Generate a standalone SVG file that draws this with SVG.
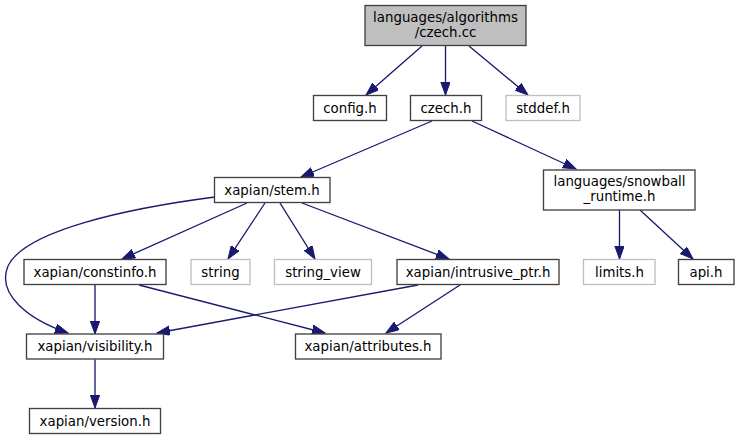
<svg xmlns="http://www.w3.org/2000/svg" width="739" height="440" viewBox="0 0 739 440">
<style>
.n rect{fill:#ffffff;stroke:#404040;stroke-width:1.33}
.n.root rect{fill:#bfbfbf}
.n.ext rect{stroke:#bfbfbf}
.n text{font-family:"DejaVu Sans",sans-serif;font-size:13.33px;fill:#000000;text-anchor:middle}
.e path{fill:none;stroke:#191970;stroke-width:1.33;marker-end:url(#ah)}
</style>
<defs>
<marker id="ah" markerUnits="userSpaceOnUse" markerWidth="14" markerHeight="10" refX="13" refY="4.7" orient="auto">
<path d="M0,0 L13,4.7 L0,9.4 z" fill="#191970" stroke="#191970" stroke-width="1"/>
</marker>
</defs>
<rect width="739" height="440" fill="#ffffff"/>
<g id="edges" class="e">
<path d="M422,46 L366,95"/>
<path d="M445.5,46 L445.5,95"/>
<path d="M469,46 L528,95"/>
<path d="M432,121 L301,177"/>
<path d="M472,121 L576,169"/>
<path d="M215,197 C130,208 25,230 8,266 C-4,295 30,320 68,333"/>
<path d="M247,203 L122,259"/>
<path d="M265,203 L228,259"/>
<path d="M280,203 L315,259"/>
<path d="M302,203 L449,259"/>
<path d="M619.5,210 L619.5,259"/>
<path d="M640,210 L693,259"/>
<path d="M95,285 L95,334"/>
<path d="M139,285 L325,333"/>
<path d="M418,285 L157,333"/>
<path d="M460,285 L386,333"/>
<path d="M95,359.5 L95,408"/>
</g>
<g id="node-root" class="n root"><rect x="365" y="5.5" width="161" height="40"/><text x="445.5" y="21.5">languages/algorithms</text><text x="445.5" y="36.5">/czech.cc</text></g>
<g id="node-config" class="n"><rect x="313.5" y="95.5" width="73" height="25"/><text x="350" y="112.5">config.h</text></g>
<g id="node-czech" class="n"><rect x="410.5" y="95.5" width="71" height="25"/><text x="446" y="112.5">czech.h</text></g>
<g id="node-stddef" class="n ext"><rect x="506" y="95.5" width="74" height="25"/><text x="543" y="112.5">stddef.h</text></g>
<g id="node-stem" class="n"><rect x="214.5" y="177.5" width="115.5" height="25"/><text x="272" y="194.5">xapian/stem.h</text></g>
<g id="node-snowball" class="n"><rect x="543.5" y="170" width="151.5" height="40"/><text x="619.5" y="186">languages/snowball</text><text x="619.5" y="201">_runtime.h</text></g>
<g id="node-constinfo" class="n"><rect x="24" y="259.5" width="142" height="25"/><text x="95" y="276.5">xapian/constinfo.h</text></g>
<g id="node-string" class="n ext"><rect x="191" y="259.5" width="59" height="25"/><text x="220.5" y="276.5">string</text></g>
<g id="node-string_view" class="n ext"><rect x="274.5" y="259.5" width="97" height="25"/><text x="323" y="276.5">string_view</text></g>
<g id="node-intrusive" class="n"><rect x="397" y="259.5" width="162" height="25"/><text x="478" y="276.5">xapian/intrusive_ptr.h</text></g>
<g id="node-limits" class="n ext"><rect x="583.5" y="259.5" width="71.5" height="25"/><text x="619.5" y="276.5">limits.h</text></g>
<g id="node-api" class="n"><rect x="678.5" y="259.5" width="55.5" height="25"/><text x="706" y="276.5">api.h</text></g>
<g id="node-visibility" class="n"><rect x="26.5" y="334" width="137" height="25"/><text x="95" y="351">xapian/visibility.h</text></g>
<g id="node-attributes" class="n"><rect x="295.5" y="334" width="145.5" height="25"/><text x="368" y="351">xapian/attributes.h</text></g>
<g id="node-version" class="n"><rect x="29.5" y="408.5" width="131" height="25"/><text x="95" y="425.5">xapian/version.h</text></g>
</svg>
